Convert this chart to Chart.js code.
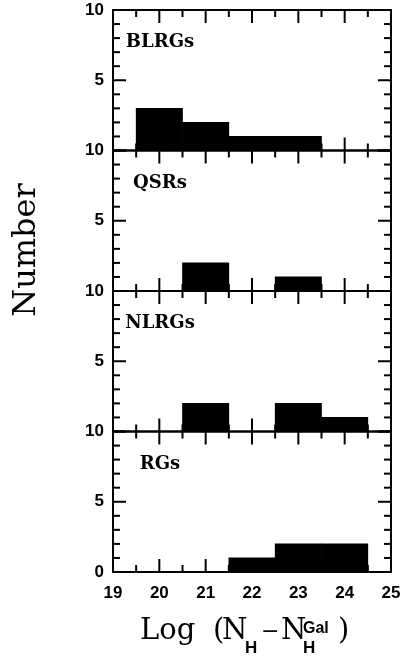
<!DOCTYPE html>
<html>
<head>
<meta charset="utf-8">
<script src="https://cdn.jsdelivr.net/npm/chart.js@4/dist/chart.umd.min.js"></script>
<style>
  html, body { margin: 0; padding: 0; background: #fff; }
  #c { display: block; }
</style>
</head>
<body>
<canvas id="c" width="404" height="656"></canvas>
<script>
// ---- data ----
const binCenters = [20, 21, 22, 23, 24];
const panelNames = ['BLRGs', 'QSRs', 'NLRGs', 'RGs'];
const blrgCounts = [3, 2, 1, 1, 0];
const qsrCounts  = [0, 2, 0, 1, 0];
const nlrgCounts = [0, 2, 0, 2, 1];
const rgCounts   = [0, 0, 1, 2, 2];
const xTickValues = [19, 20, 21, 22, 23, 24, 25];
const yTickValues = [0, 5, 10];
const xRange = [19, 25];
const yRange = [0, 10];

const panelCounts = [blrgCounts, qsrCounts, nlrgCounts, rgCounts];
const panelIds = ['yBLRG', 'yQSR', 'yNLRG', 'yRG'];

const tickFont = { family: '"Liberation Sans", Arial, sans-serif', size: 17, weight: 'bold', lineHeight: 1 };

const datasets = panelCounts.map((counts, i) => ({
  label: panelNames[i],
  data: binCenters.map((x, j) => ({ x: x, y: counts[j] })),
  yAxisID: panelIds[i],
  backgroundColor: '#000',
  borderWidth: 0,
  barPercentage: 1,
  categoryPercentage: 1,
  grouped: false
}));

function makeY(id, isBottom) {
  return {
    type: 'linear',
    position: 'left',
    stack: 'panels',
    stackWeight: 1,
    min: yRange[0],
    max: yRange[1],
    afterBuildTicks: s => { s.ticks = yTickValues.map(v => ({ value: v })); },
    ticks: {
      color: '#000',
      font: tickFont,
      padding: 9,
      autoSkip: false,
      callback: v => (v === 0 && !isBottom) ? '' : String(v)
    },
    grid: { display: false, drawTicks: false },
    border: { display: false },
    afterFit: s => { s.width = 113; s.paddingTop = 0; s.paddingBottom = 0; s.paddingLeft = 0; s.paddingRight = 0; }
  };
}

const scales = {
  x: {
    type: 'linear',
    offset: false,
    min: xRange[0],
    max: xRange[1],
    afterBuildTicks: s => { s.ticks = xTickValues.map(v => ({ value: v })); },
    ticks: { color: '#000', font: tickFont, padding: 13, autoSkip: false, maxRotation: 0 },
    grid: { display: false, drawTicks: false, offset: false },
    border: { display: false },
    afterFit: s => { s.height = 84; s.paddingTop = 0; s.paddingBottom = 0; s.paddingLeft = 0; s.paddingRight = 0; }
  }
};
// stacked axes: last defined is placed at the top
scales.yRG = makeY('yRG', true);
scales.yNLRG = makeY('yNLRG', false);
scales.yQSR = makeY('yQSR', false);
scales.yBLRG = makeY('yBLRG', false);

const framePlugin = {
  id: 'frame',
  afterDatasetsDraw(chart) {
    const ctx = chart.ctx;
    const xs = chart.scales.x;
    const L = chart.chartArea.left, R = chart.chartArea.right;
    ctx.save();
    ctx.strokeStyle = '#000';
    ctx.fillStyle = '#000';
    ctx.lineWidth = 2;
    const line = (x1, y1, x2, y2) => { ctx.beginPath(); ctx.moveTo(x1, y1); ctx.lineTo(x2, y2); ctx.stroke(); };
    panelIds.forEach((id, i) => {
      const ys = chart.scales[id];
      const T = ys.getPixelForValue(yRange[1]);
      const B = ys.getPixelForValue(yRange[0]);
      ctx.strokeRect(L, T, R - L, B - T);
      for (let v = yRange[0]; v <= yRange[1]; v += 1) {
        const y = ys.getPixelForValue(v);
        const len = (v % 5 === 0) ? 13 : 7;
        line(L, y, L + len, y);
        line(R, y, R - len, y);
      }
      for (let v = xRange[0]; v <= xRange[1]; v += 0.5) {
        const x = xs.getPixelForValue(v);
        const len = Number.isInteger(v) ? 13 : 7;
        line(x, T, x, T + len);
        line(x, B, x, B - len);
      }
      // panel label
      ctx.font = 'bold 18px "DejaVu Serif", serif';
      ctx.textAlign = 'center';
      ctx.textBaseline = 'alphabetic';
      ctx.fillText(panelNames[i], 160, T + 37);
    });

    // y title
    ctx.save();
    ctx.translate(35, 250);
    ctx.rotate(-Math.PI / 2);
    ctx.font = '32px "DejaVu Serif", serif';
    ctx.textAlign = 'center';
    ctx.textBaseline = 'alphabetic';
    ctx.fillText('Number', 0, 0);
    ctx.restore();

    // x title: Log (N_H - N_H^Gal)
    ctx.textAlign = 'left';
    ctx.textBaseline = 'alphabetic';
    const base = 639;
    ctx.font = '29px "DejaVu Serif", serif';
    ctx.fillText('Log', 140, base);
    ctx.fillText('(', 213, base);
    ctx.fillText('N', 222, base);
    ctx.fillText('N', 281, base);
    ctx.fillText(')', 338, base);
    ctx.font = '22px "DejaVu Serif", serif';
    ctx.fillText('\u2212', 261, base - 1);
    ctx.font = 'bold 17px "Liberation Sans", Arial, sans-serif';
    ctx.fillText('H', 245, 653);
    ctx.fillText('H', 303, 653);
    ctx.font = 'bold 16px "Liberation Sans", Arial, sans-serif';
    ctx.fillText('Gal', 303, 633);
    ctx.restore();
  }
};

new Chart(document.getElementById('c'), {
  type: 'bar',
  data: { datasets: datasets },
  options: {
    responsive: false,
    animation: false,
    devicePixelRatio: 1,
    layout: { padding: { top: 10, right: 13, left: 0, bottom: 0 } },
    plugins: { legend: { display: false }, tooltip: { enabled: false }, title: { display: false } },
    scales: scales
  },
  plugins: [framePlugin]
});
</script>
</body>
</html>
